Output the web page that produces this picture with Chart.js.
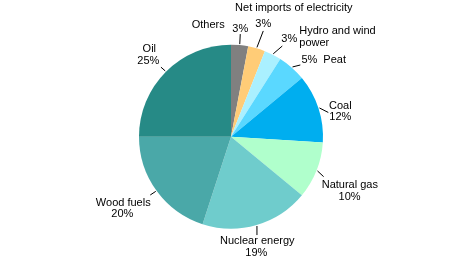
<!DOCTYPE html>
<html>
<head>
<meta charset="utf-8">
<script src="https://cdn.jsdelivr.net/npm/chart.js@4"></script>
<style>
  html, body { margin: 0; padding: 0; background: #fff; }
  #wrap { width: 461px; height: 261px; position: relative; }
</style>
</head>
<body>
<div id="wrap"><canvas id="plot"></canvas></div>
<script>
// shares, clockwise from 12 o'clock
const categories = ["Others", "Net imports of electricity", "Hydro and wind power", "Peat", "Coal",
  "Natural gas", "Nuclear energy", "Wood fuels", "Oil"];
const shares = [3, 3, 3, 5, 12, 10, 19, 20, 25];
const colors = ["#808080", "#FFCC77", "#AAF0FF", "#5AD8FF", "#00AEEF",
  "#B0FFCC", "#6FCCCC", "#4AA8A8", "#268A86"];

// label layout per slice: leader vector and text lines, relative to arc midpoint
// "{v}" is swapped for the share value
const leaders = [[0.6, -11], [6.6, -17.4], [9.5, -8.7], [8.5, -2.7], [9.8, 4.2],
  [7.1, 6.1], [0.3, 10], [-6.3, 4.2], [-5, -4.5]];
const labelLines = [
  [["Others", -31.4, -20.4, "center"], ["{v}%", 0.6, -16.1, "center"]],
  [["{v}%", 6.6, -24.4, "center"], ["Net imports of electricity", 37.1, -40.4, "center"]],
  [["{v}%", 16.5, -15.4, "center"], ["Hydro and wind", 26.5, -24, "left"], ["power", 26.5, -12, "left"]],
  [["{v}%", 17.5, -7.7, "center"], ["Peat", 31.5, -7.7, "left"]],
  [["Coal", 21.8, -2.6, "center"], ["{v}%", 21.8, 9, "center"]],
  [["Natural gas", 33.3, 14.7, "center"], ["{v}%", 33, 26.1, "center"]],
  [["Nuclear energy", 0.6, 16.3, "center"], ["{v}%", -0.4, 28.3, "center"]],
  [["Wood fuels", -33.3, 11.9, "center"], ["{v}%", -34.3, 23.5, "center"]],
  [["Oil", -16.6, -22.9, "center"], ["{v}%", -17.6, -10.9, "center"]]
];

const sliceLabels = {
  id: "sliceLabels",
  afterDatasetsDraw(chart) {
    const ctx = chart.ctx;
    const meta = chart.getDatasetMeta(0);
    ctx.save();
    ctx.font = "11px 'Liberation Sans', Arial, sans-serif";
    ctx.fillStyle = "#000";
    ctx.strokeStyle = "#000";
    ctx.lineWidth = 1;
    ctx.textBaseline = "middle";
    meta.data.forEach((arc, i) => {
      const p = arc.getProps(["x", "y", "startAngle", "endAngle", "outerRadius"], true);
      const mid = (p.startAngle + p.endAngle) / 2;
      const ax = p.x + Math.cos(mid) * p.outerRadius;
      const ay = p.y + Math.sin(mid) * p.outerRadius;
      const lv = leaders[i];
      ctx.beginPath();
      ctx.moveTo(ax + Math.cos(mid), ay + Math.sin(mid));
      ctx.lineTo(ax + lv[0], ay + lv[1]);
      ctx.stroke();
      labelLines[i].forEach(l => {
        ctx.textAlign = l[3];
        ctx.fillText(l[0].replace("{v}", shares[i]), ax + l[1], ay + l[2]);
      });
    });
    ctx.restore();
  }
};

const data = {
  labels: categories,
  datasets: [{
    data: shares,
    backgroundColor: colors,
    borderWidth: 0
  }]
};

const config = {
  type: "pie",
  data: data,
  options: {
    responsive: true,
    maintainAspectRatio: false,
    animation: false,
    layout: { padding: { top: 44.7, bottom: 32.3, left: 1, right: 0 } },
    plugins: {
      legend: { display: false },
      tooltip: { enabled: false }
    }
  },
  plugins: [sliceLabels]
};

let ctx = document.getElementById("plot").getContext("2d");
let chart = new Chart(ctx, config);
</script>
</body>
</html>
